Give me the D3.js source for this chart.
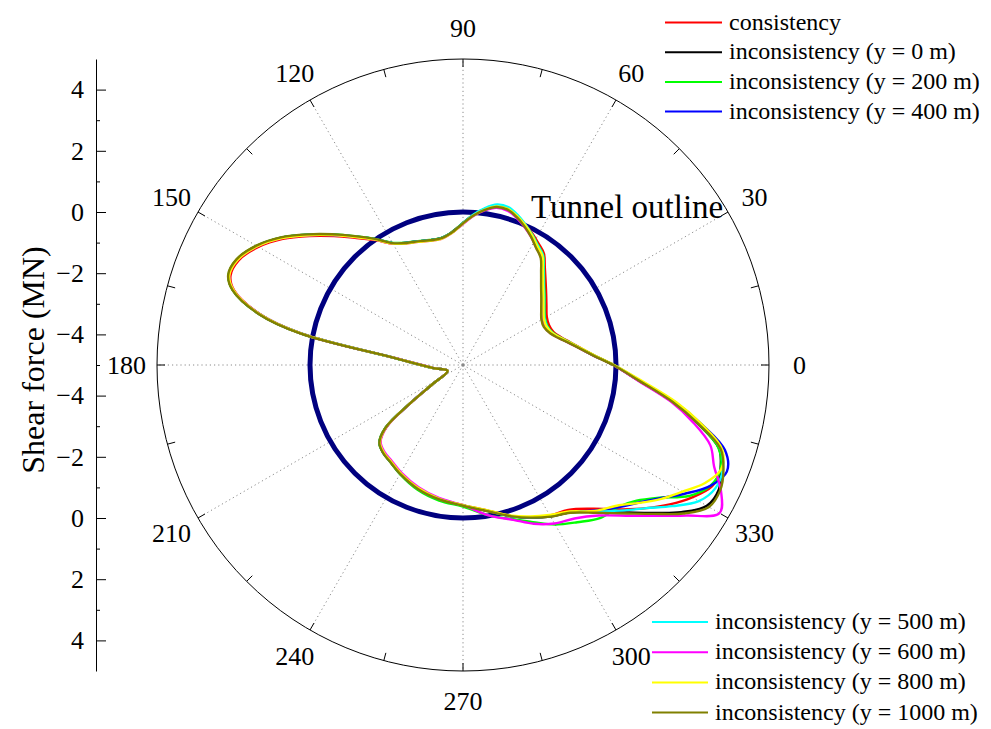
<!DOCTYPE html>
<html>
<head>
<meta charset="utf-8">
<script src="https://cdn.jsdelivr.net/npm/d3@7"></script>
<style>
  html, body { margin: 0; padding: 0; background: #fff; }
  svg { display: block; }
  svg text { font-family: "Liberation Serif", "Times New Roman", serif; }
</style>
</head>
<body>
<svg id="chart" width="991" height="729"></svg>
<script>
// Polar angle (degrees, counter-clockwise from the right) of every sample
const angles = [0, 4, 8, 12, 16, 20, 25, 30, 35, 40, 45, 50, 54, 58, 62, 66, 70, 74, 78, 82,
  86, 90, 95, 100, 105, 110, 115, 120, 125, 130, 135, 140, 145, 150, 155, 159, 162, 166, 169, 174,
  186, 201, 212, 216, 219, 223, 228, 233, 240, 250, 260, 270, 280, 288, 294, 300, 306, 312, 318, 322,
  326, 330, 334, 338, 342, 346, 350, 355];

// Shear force (MN) along the lining for each case
const consistency = [-0.08, -0.68, -1.10, -1.42, -1.68, -1.85, -1.90, -1.84, -1.67, -1.45,
  -1.18, -0.84, -0.50, -0.33, -0.15, 0.02, 0.19, 0.32, 0.30, 0.13,
  -0.10, -0.37, -0.66, -0.80, -0.78, -0.70, -0.60, -0.42, -0.02, 0.42,
  0.96, 1.56, 2.19, 2.72, 3.09, 3.14, 2.86, 1.82, 0.38, -2.72,
  -4.03, -4.46, -3.83, -2.86, -1.78, -1.30, -1.14, -1.06, -0.90, -0.70,
  -0.55, -0.42, -0.16, 0.20, 0.45, 0.68, 0.85, 1.32, 2.05, 2.60,
  3.15, 3.65, 4.05, 4.12, 3.80, 2.95, 1.97, 0.75];
const incons0 = [-0.08, -0.70, -1.13, -1.47, -1.75, -1.95, -2.05, -2.00, -1.84, -1.62,
  -1.35, -0.99, -0.64, -0.46, -0.23, -0.02, 0.17, 0.31, 0.31, 0.15,
  -0.08, -0.36, -0.66, -0.80, -0.78, -0.70, -0.60, -0.40, 0.02, 0.48,
  1.02, 1.62, 2.25, 2.78, 3.15, 3.20, 2.90, 1.85, 0.40, -2.71,
  -4.03, -4.46, -3.83, -2.85, -1.75, -1.27, -1.12, -1.05, -0.90, -0.70,
  -0.55, -0.41, -0.15, 0.20, 0.46, 0.72, 0.95, 1.45, 2.20, 2.85,
  3.60, 4.20, 4.30, 4.08, 3.80, 2.90, 1.95, 0.75];
const incons200 = [-0.08, -0.69, -1.11, -1.44, -1.71, -1.89, -1.96, -1.91, -1.75, -1.52,
  -1.25, -0.89, -0.55, -0.38, -0.18, 0.00, 0.18, 0.32, 0.31, 0.15,
  -0.08, -0.36, -0.65, -0.79, -0.77, -0.69, -0.59, -0.39, 0.03, 0.49,
  1.03, 1.63, 2.26, 2.79, 3.16, 3.21, 2.91, 1.86, 0.41, -2.70,
  -4.03, -4.46, -3.83, -2.84, -1.74, -1.26, -1.12, -1.04, -0.88, -0.66,
  -0.50, -0.37, 0.00, 0.30, 0.62, 1.02, 1.35, 1.72, 1.90, 2.20,
  2.75, 3.55, 4.00, 4.08, 3.78, 2.92, 1.98, 0.76];
const incons400 = [-0.07, -0.69, -1.12, -1.46, -1.73, -1.92, -2.01, -1.96, -1.80, -1.58,
  -1.31, -0.95, -0.60, -0.43, -0.21, -0.01, 0.18, 0.31, 0.30, 0.14,
  -0.09, -0.37, -0.66, -0.80, -0.78, -0.70, -0.60, -0.40, 0.02, 0.47,
  1.01, 1.61, 2.24, 2.77, 3.14, 3.19, 2.89, 1.84, 0.40, -2.71,
  -4.03, -4.46, -3.83, -2.85, -1.76, -1.28, -1.12, -1.05, -0.90, -0.70,
  -0.55, -0.41, -0.15, 0.20, 0.45, 0.70, 0.95, 1.40, 1.93, 2.30,
  2.78, 3.40, 4.00, 4.30, 4.00, 3.05, 2.05, 0.80];
const incons500 = [-0.08, -0.70, -1.12, -1.45, -1.72, -1.90, -1.98, -1.93, -1.77, -1.54,
  -1.27, -0.91, -0.56, -0.39, -0.18, 0.02, 0.22, 0.37, 0.36, 0.18,
  -0.07, -0.36, -0.66, -0.80, -0.78, -0.70, -0.60, -0.40, 0.02, 0.48,
  1.02, 1.62, 2.25, 2.78, 3.15, 3.20, 2.90, 1.85, 0.40, -2.71,
  -4.03, -4.46, -3.83, -2.85, -1.75, -1.27, -1.12, -1.05, -0.90, -0.70,
  -0.55, -0.41, -0.15, 0.20, 0.45, 0.70, 0.95, 1.45, 2.10, 2.60,
  3.25, 3.90, 4.18, 4.15, 3.85, 2.95, 2.00, 0.77];
const incons600 = [-0.09, -0.71, -1.14, -1.48, -1.76, -1.96, -2.06, -2.02, -1.86, -1.64,
  -1.37, -1.01, -0.66, -0.48, -0.26, -0.06, 0.12, 0.25, 0.25, 0.10,
  -0.12, -0.39, -0.68, -0.82, -0.80, -0.72, -0.62, -0.42, 0.00, 0.46,
  1.00, 1.60, 2.23, 2.76, 3.13, 3.18, 2.88, 1.83, 0.38, -2.72,
  -4.04, -4.46, -3.84, -2.88, -1.80, -1.32, -1.17, -1.10, -0.95, -0.75,
  -0.58, -0.42, 0.00, 0.32, 0.68, 0.98, 1.20, 1.62, 2.36, 3.00,
  3.80, 4.68, 4.38, 3.85, 3.50, 2.75, 1.90, 0.72];
const incons800 = [-0.06, -0.67, -1.10, -1.45, -1.72, -1.91, -2.00, -1.95, -1.79, -1.57,
  -1.30, -0.94, -0.59, -0.42, -0.20, 0.00, 0.18, 0.31, 0.30, 0.13,
  -0.10, -0.38, -0.68, -0.82, -0.80, -0.72, -0.62, -0.42, 0.00, 0.46,
  1.00, 1.60, 2.23, 2.76, 3.13, 3.18, 2.88, 1.84, 0.40, -2.71,
  -4.03, -4.46, -3.83, -2.86, -1.77, -1.29, -1.14, -1.07, -0.92, -0.72,
  -0.56, -0.42, -0.17, 0.18, 0.42, 0.66, 0.92, 1.42, 1.85, 2.32,
  2.82, 3.28, 3.80, 4.10, 3.90, 3.05, 2.10, 0.85];
const incons1000 = [-0.09, -0.71, -1.14, -1.48, -1.77, -1.97, -2.08, -2.04, -1.88, -1.66,
  -1.39, -1.03, -0.68, -0.49, -0.26, -0.05, 0.14, 0.28, 0.28, 0.12,
  -0.10, -0.37, -0.66, -0.80, -0.78, -0.70, -0.60, -0.40, 0.03, 0.50,
  1.04, 1.64, 2.27, 2.80, 3.17, 3.22, 2.92, 1.87, 0.42, -2.70,
  -4.03, -4.46, -3.83, -2.84, -1.74, -1.26, -1.11, -1.04, -0.89, -0.69,
  -0.54, -0.40, -0.14, 0.20, 0.46, 0.72, 0.97, 1.50, 2.25, 2.90,
  3.68, 4.28, 4.35, 4.18, 3.85, 2.92, 1.96, 0.76];

const seriesNames = ["consistency", "inconsistency (y = 0 m)", "inconsistency (y = 200 m)",
  "inconsistency (y = 400 m)", "inconsistency (y = 500 m)", "inconsistency (y = 600 m)",
  "inconsistency (y = 800 m)", "inconsistency (y = 1000 m)"];
const seriesValues = [consistency, incons0, incons200, incons400, incons500, incons600, incons800, incons1000];
const seriesColors = ["#ff0000", "#000000", "#00ff00", "#0000ff", "#00ffff", "#ff00ff", "#ffff00", "#808000"];

const angleTicks = [0, 30, 60, 90, 120, 150, 180, 210, 240, 270, 300, 330];
const radialTicks = [-4, -2, 0, 2, 4];
const radialMinor = [-5, -3, -1, 1, 3];
const tunnelValue = 0;

// Layout
const FONT = "'Liberation Serif', 'Times New Roman', serif";
const cx = 463, cy = 365, R = 306;
const axisX = 96;
const svg = d3.select("#chart");
const rScale = d3.scaleLinear().domain([-5, 5]).range([0, R]);
const rad = a => a * Math.PI / 180;
const px = (a, r) => cx + r * Math.cos(rad(a));
const py = (a, r) => cy - r * Math.sin(rad(a));

// Spokes
svg.append("g").selectAll("line").data(angleTicks).join("line")
  .attr("x1", cx).attr("y1", cy)
  .attr("x2", d => px(d, R)).attr("y2", d => py(d, R))
  .attr("stroke", "#8a8a8a").attr("stroke-width", 1).attr("stroke-dasharray", "1.2,3");
svg.append("circle").attr("cx", cx).attr("cy", cy).attr("r", 1.8).attr("fill", "#888");

// Outer ring and its ticks
svg.append("circle").attr("cx", cx).attr("cy", cy).attr("r", R)
  .attr("fill", "none").attr("stroke", "#000").attr("stroke-width", 1);
svg.append("g").selectAll("line").data(d3.range(0, 360, 15)).join("line")
  .attr("x1", d => px(d, R)).attr("y1", d => py(d, R))
  .attr("x2", d => px(d, R - 8)).attr("y2", d => py(d, R - 8))
  .attr("stroke", "#000").attr("stroke-width", 1);

// Angle labels
svg.append("g").selectAll("text").data(angleTicks).join("text")
  .attr("x", d => px(d, R * 1.1)).attr("y", d => py(d, R * 1.1))
  .attr("dy", "0.34em").attr("text-anchor", "middle")
  .style("font-family", FONT).attr("font-size", 26).attr("fill", "#000")
  .text(d => d);

// Tunnel outline
svg.append("circle").attr("cx", cx).attr("cy", cy).attr("r", rScale(tunnelValue))
  .attr("fill", "none").attr("stroke", "#00007f").attr("stroke-width", 5);
svg.append("text").attr("x", 531).attr("y", 218)
  .style("font-family", FONT).attr("font-size", 33).attr("fill", "#000")
  .text("Tunnel outline");

// Shear force curves
const line = d3.lineRadial()
  .angle(d => Math.PI / 2 - rad(d.a))
  .radius(d => rScale(d.v))
  .curve(d3.curveCatmullRomClosed.alpha(0.5));
const curveG = svg.append("g").attr("transform", `translate(${cx},${cy})`);
seriesValues.forEach((vals, i) => {
  const pts = angles.map((a, j) => ({ a, v: vals[j] }));
  curveG.append("path").attr("d", line(pts))
    .attr("fill", "none").attr("stroke", seriesColors[i])
    .attr("stroke-width", 2.4).attr("stroke-linejoin", "round");
});

// Left value axis (both halves measured outward from the centre)
const yUp = d3.scaleLinear().domain([-5, 5]).range([cy, cy - R]);
const yDown = d3.scaleLinear().domain([-5, 5]).range([cy, cy + R]);
[yUp, yDown].forEach(sc => {
  const g = svg.append("g").attr("transform", `translate(${axisX},0)`)
    .call(d3.axisLeft(sc).tickValues(radialTicks).tickSizeInner(-10).tickSizeOuter(0).tickPadding(12));
  g.attr("font-family", null).attr("font-size", null);
  g.select(".domain").attr("stroke", "#000");
  g.selectAll(".tick line").attr("stroke", "#000");
  g.selectAll(".tick text").style("font-family", FONT).attr("font-size", 26).attr("fill", "#000");
  const m = svg.append("g").attr("transform", `translate(${axisX},0)`)
    .call(d3.axisLeft(sc).tickValues(radialMinor).tickSizeInner(-4).tickSizeOuter(0).tickFormat(""));
  m.select(".domain").remove();
  m.selectAll(".tick line").attr("stroke", "#000");
});
svg.append("text")
  .attr("transform", `translate(44,${cy - 5}) rotate(-90)`)
  .attr("text-anchor", "middle")
  .style("font-family", FONT).attr("font-size", 32).attr("fill", "#000")
  .text("Shear force (MN)");

// Legends
function legend(items, x0, y0, len, gap, step) {
  const g = svg.append("g");
  items.forEach((i, k) => {
    const y = y0 + k * step;
    g.append("line").attr("x1", x0).attr("x2", x0 + len).attr("y1", y).attr("y2", y)
      .attr("stroke", seriesColors[i]).attr("stroke-width", 2);
    g.append("text").attr("x", x0 + len + gap).attr("y", y + 7)
      .style("font-family", FONT).attr("font-size", 24).attr("fill", "#000")
      .text(seriesNames[i]);
  });
}
legend([0, 1, 2, 3], 665, 22.5, 57, 7, 29.7);
legend([4, 5, 6, 7], 652, 622, 56, 7, 30.2);
</script>
</body>
</html>
